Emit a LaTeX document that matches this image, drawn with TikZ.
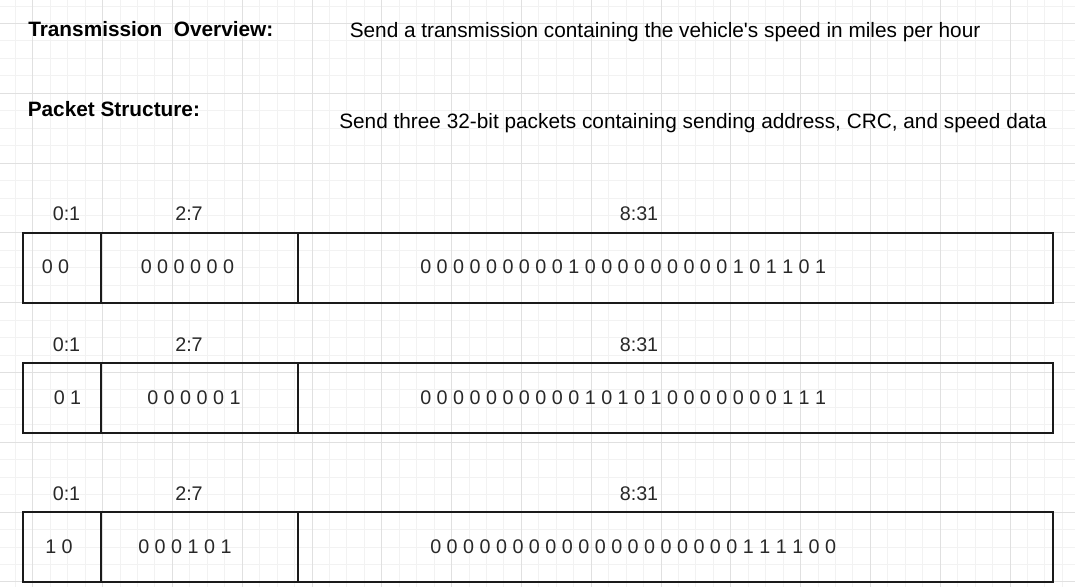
\documentclass[tikz,border=0pt]{standalone}
\usepackage{fontspec}
\setmainfont{Liberation Sans}
\usepackage{tikz}
\definecolor{gridmajor}{RGB}{224,224,224}
\definecolor{gridminor}{RGB}{242,242,242}
\definecolor{boxline}{RGB}{26,26,26}
\definecolor{bittext}{RGB}{40,40,40}
\newcommand{\drawthick}{\draw[line width=1.5pt, boxline]}
\newcommand{\drawpagegrid}{
    \foreach \x in {0,...,60}{
      \draw[gridminor, line width=0.6pt] (15.25+\x*17.45,0)--(15.25+\x*17.45,587);
    }
    \foreach \y in {0,...,33}{
      \draw[gridminor, line width=0.6pt] (0,5.95+\y*17.45)--(1075,5.95+\y*17.45);
    }
    \foreach \x in {0,...,14}{
      \draw[gridmajor, line width=0.6pt] (32.7+\x*69.8,0)--(32.7+\x*69.8,587);
    }
    \foreach \y in {0,...,8}{
      \draw[gridmajor, line width=0.6pt] (0,23.4+\y*69.8)--(1075,23.4+\y*69.8);
    }
}
% one packet: outline, two field dividers and the bit range labels
\newcommand{\packetrow}[2]{
    \drawthick (23.4,#2) rectangle (1053,#2+70);
    \drawthick (100.5,#2)--(100.5,#2+70);
    \drawthick (298,#2)--(298,#2+70);
    \node[bitrange] (#1-lo) at (66.5,#2-12) {0:1};
    \node[bitrange] (#1-mid) at (189,#2-12) {2:7};
    \node[bitrange] (#1-hi) at (639,#2-12) {8:31};
}

\begin{document}
\begin{tikzpicture}[x=0.75pt, y=-0.75pt,
    hdr/.style={anchor=base west, inner sep=0pt, font=\fontsize{15.6}{18}\selectfont},
    hdrbold/.style={anchor=base west, inner sep=0pt, font=\fontsize{15.6}{18}\selectfont\bfseries},
    bitrange/.style={anchor=base, inner sep=0pt, text=bittext, font=\fontsize{14.8}{18}\selectfont},
    bits/.style={anchor=base west, inner sep=0pt, text=bittext, font=\fontsize{14.8}{18}\selectfont}]
\useasboundingbox (0,0) rectangle (1075,587);
\fill[white] (0,0) rectangle (1075,587);
\drawpagegrid
\node[hdrbold] (overview) at (28,36.5) {Transmission~~Overview:};
\node[hdr] (overviewtext) at (349.5,37) {Send a transmission containing the vehicle\textquotesingle s speed in miles per hour};
\node[hdrbold] (structure) at (27.5,116) {Packet Structure:};
\node[hdr] (structuretext) at (339,128) {Send three 32-bit packets containing sending address, CRC, and speed data};
\packetrow{p1}{232.8}
\packetrow{p2}{363.4}
\packetrow{p3}{512.2}
\node[bits] (p1-a) at (41.5,273.8) {0 0};
\node[bits] (p1-b) at (140.5,273.8) {0 0 0 0 0 0};
\node[bits] (p1-c) at (420,273.8) {0 0 0 0 0 0 0 0 0 1 0 0 0 0 0 0 0 0 0 1 0 1 1 0 1};
\node[bits] (p2-a) at (53.5,404.4) {0 1};
\node[bits] (p2-b) at (147,404.4) {0 0 0 0 0 1};
\node[bits] (p2-c) at (420,404.4) {0 0 0 0 0 0 0 0 0 0 1 0 1 0 1 0 0 0 0 0 0 0 1 1 1};
\node[bits] (p3-a) at (45,553.2) {1 0};
\node[bits] (p3-b) at (138,553.2) {0 0 0 1 0 1};
\node[bits] (p3-c) at (430,553.2) {0 0 0 0 0 0 0 0 0 0 0 0 0 0 0 0 0 0 0 1 1 1 1 0 0};
\end{tikzpicture}
\end{document}
